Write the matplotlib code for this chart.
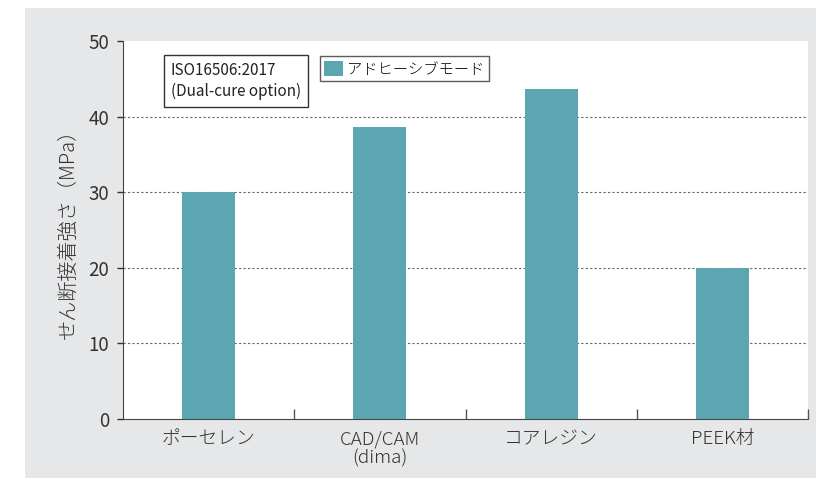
import matplotlib
matplotlib.use("Agg")
import matplotlib.pyplot as plt
from matplotlib.patches import Rectangle
import numpy as np

plt.rcParams['font.family'] = ['Noto Sans CJK JP', 'DejaVu Sans']
plt.rcParams['font.weight'] = 'light'

# data
categories = ['ポーセレン', 'CAD/CAM\n(dima)', 'コアレジン', 'PEEK材']
values = [30.0, 38.6, 43.7, 20.0]
series_label = 'アドヒーシブモード'
note = 'ISO16506:2017\n(Dual-cure option)'
ylabel = 'せん断接着強さ（MPa）'
yticks = [0, 10, 20, 30, 40, 50]

bar_color = '#5ca6b1'
bg_gray = '#e6e7e8'

fig = plt.figure(figsize=(8.16, 4.82), dpi=100)
fig.patches.append(Rectangle((25 / 816, 4 / 482), 1 - 25 / 816, 470 / 482,
                             transform=fig.transFigure, facecolor=bg_gray,
                             edgecolor='none', zorder=-10))

ax = fig.add_axes([123 / 816, 63 / 482, 685 / 816, 378 / 482])
ax.set_facecolor('white')

x = np.arange(len(categories))
ax.bar(x, values, width=0.31, color=bar_color, label=series_label, zorder=3)

ax.set_xlim(-0.5, len(categories) - 0.5)
ax.set_ylim(0, 50)
ax.set_yticks(yticks)
ax.set_yticklabels([str(v) for v in yticks], fontweight='normal')
ax.tick_params(axis='y', direction='out', length=4, width=1, colors='#333333',
               labelsize=13.5, pad=6)

# category labels centred, boundary ticks pointing in
ax.set_xticks(x)
ax.set_xticklabels(categories, fontsize=13.5, color='#333333', linespacing=1.05)
ax.tick_params(axis='x', which='major', length=0, pad=8)
ax.set_xticks(np.arange(len(categories)) + 0.5, minor=True)
ax.tick_params(axis='x', which='minor', direction='in', length=7, width=1,
               color='#555555')

for v in yticks[1:-1]:
    ax.axhline(v, color='#666666', linestyle=(0, (2, 2)), linewidth=0.8, zorder=1)

for s in ['top', 'right']:
    ax.spines[s].set_visible(False)
ax.spines['left'].set_color('#444444')
ax.spines['bottom'].set_color('#444444')

ax.set_ylabel(ylabel, fontsize=14.5, color='#333333', labelpad=7,
              fontweight='light')

ax.text(0.07, 0.945, note, transform=ax.transAxes, fontsize=11, va='top',
        ha='left', linespacing=1.3, color='#222222', fontweight='normal',
        bbox=dict(boxstyle='square,pad=0.45', facecolor='white',
                  edgecolor='#333333', linewidth=1))

leg = ax.legend(loc='upper left', bbox_to_anchor=(0.287, 0.96), fontsize=11,
                frameon=True, fancybox=False, edgecolor='#333333',
                handlelength=1.2, handleheight=1.2, handletextpad=0.3,
                borderpad=0.3, borderaxespad=0)
leg.get_frame().set_linewidth(1)

fig.savefig('out.png', dpi=100, facecolor='white')
